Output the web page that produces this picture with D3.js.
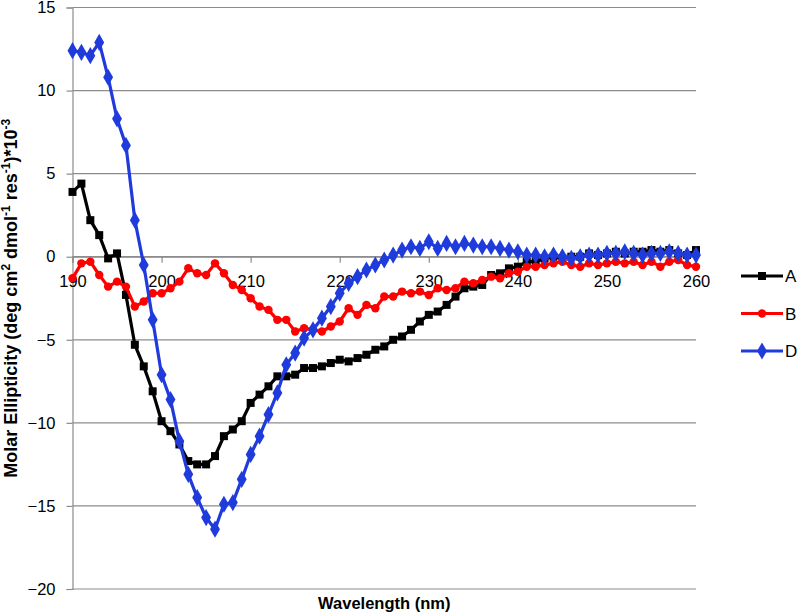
<!DOCTYPE html>
<html>
<head>
<meta charset="utf-8">
<script src="https://cdn.jsdelivr.net/npm/d3@7/dist/d3.min.js"></script>
<style>
  body { margin: 0; background: #fff; }
  svg { font-family: "Liberation Sans", Arial, sans-serif; }
</style>
</head>
<body>
<div id="chart"></div>
<script>
// wavelengths (nm)
var wavelength = [190,191,192,193,194,195,196,197,198,199,
  200,201,202,203,204,205,206,207,208,209,
  210,211,212,213,214,215,216,217,218,219,
  220,221,222,223,224,225,226,227,228,229,
  230,231,232,233,234,235,236,237,238,239,
  240,241,242,243,244,245,246,247,248,249,
  250,251,252,253,254,255,256,257,258,259,260];

var seriesA = [3.9,4.4,2.2,1.3,-0.1,0.2,-2.3,-5.3,-6.6,-8.1,
  -9.9,-10.5,-11.3,-12.3,-12.5,-12.5,-12.0,-10.8,-10.4,-9.9,
  -8.8,-8.3,-7.8,-7.2,-7.2,-7.1,-6.7,-6.7,-6.6,-6.4,
  -6.2,-6.3,-6.1,-5.9,-5.6,-5.4,-5.0,-4.8,-4.4,-3.9,
  -3.5,-3.3,-2.9,-2.4,-1.9,-1.8,-1.7,-1.1,-1.0,-0.7,
  -0.6,-0.3,-0.3,-0.1,0.0,-0.1,0.0,0.0,0.2,0.1,
  0.2,0.3,0.2,0.3,0.3,0.4,0.3,0.4,0.2,0.1,0.4];

var seriesB = [-1.3,-0.4,-0.3,-1.1,-1.8,-1.5,-1.8,-3.0,-2.7,-2.2,
  -2.2,-1.9,-1.5,-0.7,-1.0,-1.1,-0.4,-1.0,-1.7,-2.0,
  -2.5,-3.0,-3.2,-3.8,-3.8,-4.5,-4.3,-4.4,-4.5,-4.2,
  -3.9,-3.1,-3.5,-2.9,-3.1,-2.4,-2.4,-2.1,-2.2,-2.1,
  -2.3,-1.9,-2.0,-1.9,-1.5,-1.6,-1.4,-1.2,-1.3,-1.0,
  -0.9,-0.6,-0.6,-0.5,-0.4,-0.3,-0.5,-0.6,-0.4,-0.5,
  -0.4,-0.3,-0.4,-0.3,-0.5,-0.3,-0.6,-0.3,-0.2,-0.5,-0.6];

var seriesD = [12.4,12.3,12.1,12.9,10.8,8.3,6.7,2.2,-0.5,-3.8,
  -7.1,-8.6,-11.1,-13.1,-14.5,-15.7,-16.4,-14.9,-14.8,-13.4,
  -11.9,-10.8,-9.5,-8.2,-6.5,-5.8,-4.9,-4.4,-3.7,-3.0,
  -2.2,-1.6,-1.2,-0.8,-0.5,-0.2,0.1,0.4,0.6,0.5,
  0.9,0.5,0.8,0.6,0.8,0.7,0.6,0.6,0.5,0.4,
  0.3,0.1,0.1,0.0,0.1,0.0,-0.1,0.0,0.1,0.1,
  0.2,0.2,0.3,0.2,0.1,0.2,0.2,0.3,0.2,0.1,0.1];

var seriesNames = ["A","B","D"];
var xTicks = [190,200,210,220,230,240,250,260];
var yTicks = [-20,-15,-10,-5,0,5,10,15];

var colors = {A:"#000000", B:"#ff0000", D:"#1f3bdb"};
var shapes = {A:d3.symbolSquare, B:d3.symbolCircle, D:d3.symbolDiamond};
var sizes = {A:64, B:56, D:85};
var values = {A:seriesA, B:seriesB, D:seriesD};

var W = 800, H = 616;
var margin = {top:7.5, left:72.5, right:104, bottom:27};

var svg = d3.select("#chart").append("svg")
  .attr("width",W).attr("height",H);

var x = d3.scaleLinear().domain([190,260]).range([margin.left, W - margin.right]);
var y = d3.scaleLinear().domain([-20,15]).range([H - margin.bottom, margin.top]);

//horizontal gridlines
svg.append("g").selectAll("line").data(yTicks).enter().append("line")
  .attr("x1",x(190)).attr("x2",x(260))
  .attr("y1",function(d){ return y(d); }).attr("y2",function(d){ return y(d); })
  .attr("stroke","#8c8c8c").attr("stroke-width",1.2);

//y axis
var yAxis = svg.append("g").attr("transform","translate("+x(190)+",0)")
  .call(d3.axisLeft(y).tickValues(yTicks).tickSize(6).tickPadding(11));
yAxis.select(".domain").attr("stroke","#8c8c8c").attr("stroke-width",1.2);
yAxis.selectAll(".tick line").attr("stroke","#8c8c8c").attr("stroke-width",1.2);
yAxis.selectAll("text").attr("font-size","16.5px").attr("fill","#000")
  .attr("font-family","'Liberation Sans', Arial, sans-serif");

//x axis on the zero line
var xAxis = svg.append("g").attr("transform","translate(0,"+y(0)+")")
  .call(d3.axisBottom(x).tickValues(xTicks).tickSize(6).tickPadding(13).tickFormat(d3.format("d")));
xAxis.select(".domain").attr("stroke","#8c8c8c").attr("stroke-width",1.2);
xAxis.selectAll(".tick line").attr("stroke","#8c8c8c").attr("stroke-width",1.2);
xAxis.selectAll("text").attr("font-size","16.5px").attr("fill","#000")
  .attr("font-family","'Liberation Sans', Arial, sans-serif");

//series
var line = d3.line()
  .x(function(d){ return x(d.w); })
  .y(function(d){ return y(d.v); });

seriesNames.forEach(function(name){
  var pts = wavelength.map(function(w,i){ return {w:w, v:values[name][i]}; });
  var g = svg.append("g");
  g.append("path").datum(pts).attr("d",line)
    .attr("fill","none").attr("stroke",colors[name]).attr("stroke-width",3.2)
    .attr("stroke-linejoin","round");
  g.selectAll("path.pt").data(pts).enter().append("path").attr("class","pt")
    .attr("transform",function(d){ return "translate("+x(d.w)+","+y(d.v)+")"; })
    .attr("d",d3.symbol().type(shapes[name]).size(sizes[name]))
    .attr("fill",colors[name]);
});

//legend
var legend = svg.append("g").selectAll("g").data(seriesNames).enter().append("g")
  .attr("transform",function(d,i){ return "translate(741,"+(276+i*37.5)+")"; });
legend.append("line").attr("x1",0).attr("x2",42).attr("y1",0).attr("y2",0)
  .attr("stroke",function(d){ return colors[d]; }).attr("stroke-width",3.2);
legend.append("path").attr("transform","translate(21,0)")
  .attr("d",function(d){ return d3.symbol().type(shapes[d]).size(sizes[d])(); })
  .attr("fill",function(d){ return colors[d]; });
legend.append("text").attr("x",44).attr("y",0).attr("dy","0.36em")
  .attr("font-size","17px").text(function(d){ return d; });

//axis titles
svg.append("text").attr("x",(x(190)+x(260))/2).attr("y",609)
  .attr("text-anchor","middle").attr("font-size","16.5px").attr("font-weight","bold")
  .text("Wavelength (nm)");

var yt = svg.append("text")
  .attr("transform","translate(17,"+((y(15)+y(-20))/2)+") rotate(-90)")
  .attr("text-anchor","middle").attr("font-size","18px").attr("font-weight","bold");
yt.append("tspan").text("Molar Ellipticity (deg cm");
yt.append("tspan").attr("baseline-shift","super").attr("font-size","12px").text("2");
yt.append("tspan").text(" dmol");
yt.append("tspan").attr("baseline-shift","super").attr("font-size","12px").text("-1");
yt.append("tspan").text(" res");
yt.append("tspan").attr("baseline-shift","super").attr("font-size","12px").text("-1");
yt.append("tspan").text(")*10");
yt.append("tspan").attr("baseline-shift","super").attr("font-size","12px").text("-3");
</script>
</body>
</html>
